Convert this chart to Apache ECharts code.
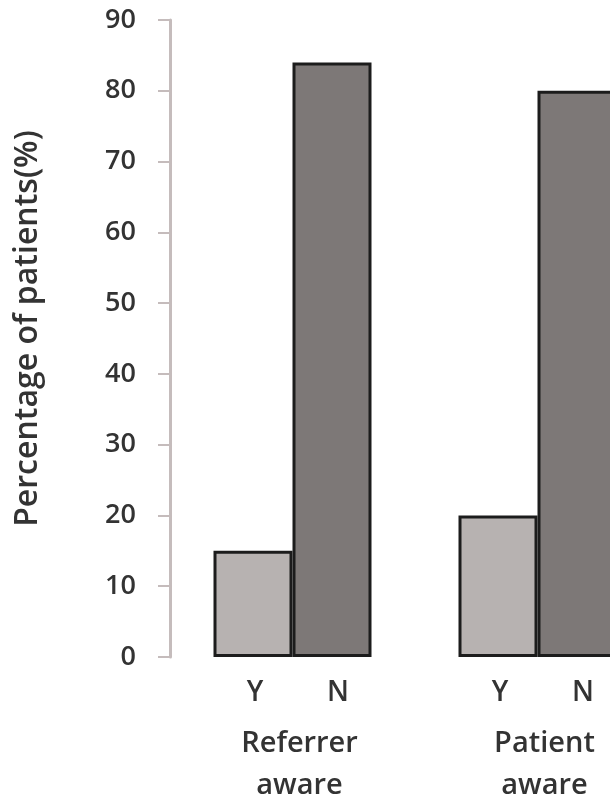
<!DOCTYPE html>
<html>
<head>
<meta charset="utf-8">
<script src="https://cdn.jsdelivr.net/npm/echarts@6/dist/echarts.min.js"></script>
<style>
html,body{margin:0;padding:0;background:#fff;}
#chart{width:610px;height:798px;}
</style>
</head>
<body>
<div id="chart"></div>
<script>
var groups = ['Referrer\naware', 'Patient\naware'];
var seriesNames = ['Y', 'N'];
var yesValues = [15, 20];
var noValues = [84, 80];
var yTicks = [0, 10, 20, 30, 40, 50, 60, 70, 80, 90];
var yAxisTitle = 'Percentage of patients(%)';

var FONT = '"Open Sans", sans-serif';
var TEXT = '#333333';
var chart = echarts.init(document.getElementById('chart'), null, {renderer: 'canvas'});

function barSeries(name, values, color) {
  return {
    name: name,
    type: 'bar',
    data: values,
    barWidth: 79,
    barGap: '0%',
    itemStyle: {color: color, borderColor: '#1c1c1c', borderWidth: 3},
    label: {
      show: true,
      position: 'insideBottom',
      distance: 0,
      offset: [name === 'N' ? 6 : 2, 50],
      formatter: name,
      fontFamily: FONT,
      fontSize: 28,
      fontWeight: 600,
      color: TEXT
    },
    silent: true
  };
}

chart.setOption({
  animation: false,
  backgroundColor: '#ffffff',
  grid: {left: 170, top: 20, width: 490, height: 637, outerBoundsMode: 'none', containLabel: false},
  xAxis: {
    type: 'category',
    data: groups,
    axisLine: {show: false},
    axisTick: {show: false},
    axisLabel: {
      margin: 66,
      fontFamily: FONT,
      fontSize: 29,
      fontWeight: 600,
      lineHeight: 42,
      color: TEXT,
      interval: 0,
      padding: [0, 0, 0, 14]
    }
  },
  yAxis: {
    type: 'value',
    min: yTicks[0],
    max: yTicks[yTicks.length - 1],
    interval: 10,
    name: yAxisTitle,
    nameLocation: 'middle',
    nameGap: 126,
    nameTextStyle: {fontFamily: FONT, fontSize: 32, fontWeight: 600, color: TEXT, padding: [0, 0, 0, 20]},
    axisLine: {show: true, lineStyle: {color: '#c5bcbc', width: 3}},
    axisTick: {show: true, inside: false, length: 12, lineStyle: {color: '#c5bcbc', width: 2}},
    axisLabel: {
      margin: 34,
      fontFamily: FONT,
      fontSize: 27,
      fontWeight: 600,
      color: TEXT,
      formatter: function (v) { return yTicks.indexOf(v) >= 0 ? String(v) : ''; }
    },
    splitLine: {show: false}
  },
  series: [
    barSeries(seriesNames[0], yesValues, '#b7b2b1'),
    barSeries(seriesNames[1], noValues, '#7d7877')
  ]
});
</script>
</body>
</html>
